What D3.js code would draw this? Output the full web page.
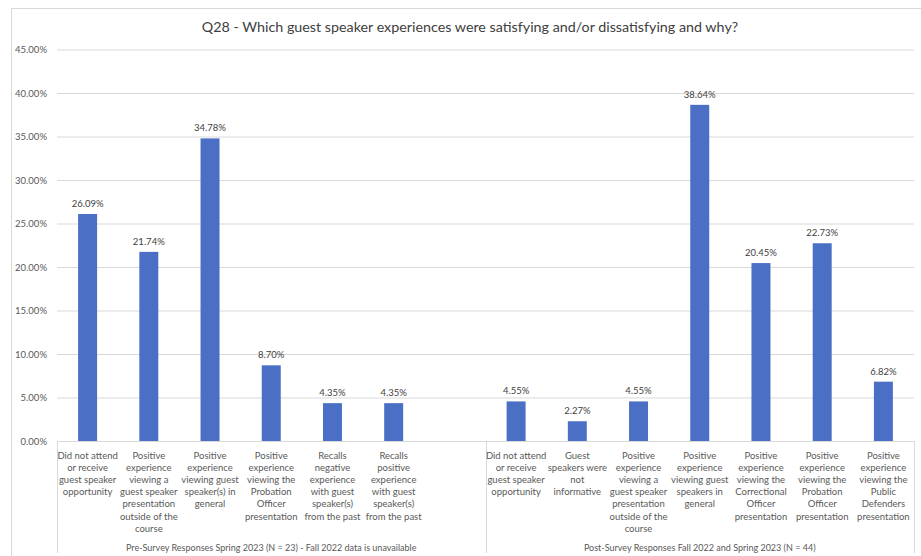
<!DOCTYPE html>
<html>
<head>
<meta charset="utf-8">
<script src="https://cdn.jsdelivr.net/npm/d3@7/dist/d3.min.js"></script>
<style>
  html, body { margin: 0; padding: 0; background: #ffffff; }
  svg { display: block; font-family: Lato, "Open Sans", sans-serif; }
</style>
</head>
<body>
<svg id="chart" width="921" height="556"></svg>
<script>
// Survey groups and their answer categories (the pre-survey group has one unused slot)
const groups = [
  "Pre-Survey Responses Spring 2023 (N = 23) - Fall 2022 data is unavailable",
  "Post-Survey Responses Fall 2022 and Spring 2023 (N = 44)"
];
const preCategories = [
  "Did not attend\nor receive\nguest speaker\nopportunity",
  "Positive\nexperience\nviewing a\nguest speaker\npresentation\noutside of the\ncourse",
  "Positive\nexperience\nviewing guest\nspeaker(s) in\ngeneral",
  "Positive\nexperience\nviewing the\nProbation\nOfficer\npresentation",
  "Recalls\nnegative\nexperience\nwith guest\nspeaker(s)\nfrom the past",
  "Recalls\npositive\nexperience\nwith guest\nspeaker(s)\nfrom the past",
  ""
];
const preValues = [26.09, 21.74, 34.78, 8.70, 4.35, 4.35, null];
const postCategories = [
  "Did not attend\nor receive\nguest speaker\nopportunity",
  "Guest\nspeakers were\nnot\ninformative",
  "Positive\nexperience\nviewing a\nguest speaker\npresentation\noutside of the\ncourse",
  "Positive\nexperience\nviewing guest\nspeakers in\ngeneral",
  "Positive\nexperience\nviewing the\nCorrectional\nOfficer\npresentation",
  "Positive\nexperience\nviewing the\nProbation\nOfficer\npresentation",
  "Positive\nexperience\nviewing the\nPublic\nDefenders\npresentation"
];
const postValues = [4.55, 2.27, 4.55, 38.64, 20.45, 22.73, 6.82];
const yTicks = [0, 5, 10, 15, 20, 25, 30, 35, 40, 45];
const title = "Q28 - Which guest speaker experiences were satisfying and/or dissatisfying and why?";

const rows = [
  ...preCategories.map((c, i) => ({ group: 0, label: c, value: preValues[i] })),
  ...postCategories.map((c, i) => ({ group: 1, label: c, value: postValues[i] }))
];
rows.forEach((d, i) => d.key = i);

const svg = d3.select("#chart");
const plot = { left: 57, right: 914, top: 49.5, bottom: 441 };

const x = d3.scaleBand().domain(rows.map(d => d.key)).range([plot.left, plot.right]).padding(0);
const y = d3.scaleLinear().domain([0, 45]).range([plot.bottom, plot.top]);
const barW = x.bandwidth() * 0.31;
const gridColor = "#d9d9d9";

// chart frame
svg.append("path")
  .attr("d", `M11.5,556 V8.5 H921`)
  .attr("fill", "none").attr("stroke", "#d9d9d9").attr("stroke-width", 1);

// title
svg.append("text")
  .attr("x", 470).attr("y", 32)
  .attr("text-anchor", "middle")
  .attr("font-size", 14.3)
  .attr("fill", "#404040")
  .text(title);

// horizontal gridlines and y labels
const yAxis = d3.axisLeft(y).tickValues(yTicks)
  .tickFormat(v => d3.format(".2f")(v) + "%")
  .tickSize(-(plot.right - plot.left)).tickPadding(10);
const gy = svg.append("g").attr("transform", `translate(${plot.left},0)`).call(yAxis);
gy.select(".domain").remove();
gy.selectAll(".tick line").attr("stroke", gridColor).attr("stroke-width", 1.2);
gy.selectAll(".tick text").attr("fill", "#595959").attr("font-size", 9.5)
  .attr("font-family", "Lato, sans-serif");

// bars
svg.append("g").selectAll("rect")
  .data(rows.filter(d => d.value != null))
  .join("rect")
  .attr("x", d => x(d.key) + (x.bandwidth() - barW) / 2)
  .attr("y", d => y(d.value))
  .attr("width", barW)
  .attr("height", d => y(0) - y(d.value))
  .attr("fill", "#4a6fc4");

// value labels
svg.append("g").selectAll("text")
  .data(rows.filter(d => d.value != null))
  .join("text")
  .attr("x", d => x(d.key) + x.bandwidth() / 2)
  .attr("y", d => y(d.value) - 7)
  .attr("text-anchor", "middle")
  .attr("font-size", 9.5)
  .attr("fill", "#404040")
  .text(d => d3.format(".2f")(d.value) + "%");

// category axis: baseline and group separators
const axisG = svg.append("g");
axisG.append("line")
  .attr("x1", plot.left).attr("x2", plot.right)
  .attr("y1", plot.bottom + 0.5).attr("y2", plot.bottom + 0.5)
  .attr("stroke", gridColor).attr("stroke-width", 1.2);
const boundaries = [
  x(rows[0].key),
  x(rows[preCategories.length].key),
  plot.right
];
axisG.selectAll("line.sep")
  .data(boundaries)
  .join("line").attr("class", "sep")
  .attr("x1", d => Math.round(d) + 0.5).attr("x2", d => Math.round(d) + 0.5)
  .attr("y1", plot.bottom).attr("y2", 553)
  .attr("stroke", gridColor).attr("stroke-width", 1);

// category labels (multi-line)
const catG = svg.append("g");
rows.forEach(d => {
  if (!d.label) return;
  const t = catG.append("text")
    .attr("text-anchor", "middle")
    .attr("font-size", 9.5)
    .attr("fill", "#595959");
  d.label.split("\n").forEach((line, i) => {
    t.append("tspan")
      .attr("x", x(d.key) + x.bandwidth() / 2)
      .attr("y", 459 + i * 12.1)
      .text(line);
  });
});

// group labels
groups.forEach((g, gi) => {
  const a = boundaries[gi], b = boundaries[gi + 1];
  svg.append("text")
    .attr("x", (a + b) / 2).attr("y", 550.5)
    .attr("text-anchor", "middle")
    .attr("font-size", 9)
    .attr("fill", "#595959")
    .text(g);
});
</script>
</body>
</html>
